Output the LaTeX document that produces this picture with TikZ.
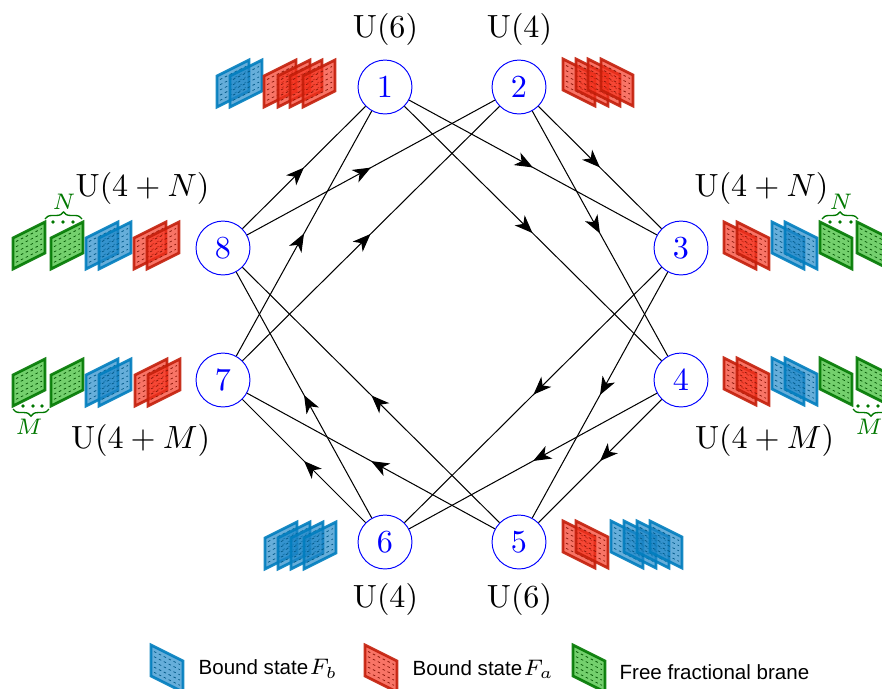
\documentclass[tikz,border=0pt]{standalone}
\usepackage[no-math]{fontspec}
\usepackage{amsmath}
\usepackage{xcolor}
\usetikzlibrary{arrows.meta}
\usetikzlibrary{decorations.markings}
\usetikzlibrary{decorations.pathreplacing}
\newfontfamily\legendfont{Liberation Sans}
\definecolor{bluebr}{RGB}{0,125,190}
\definecolor{bluebrfill}{RGB}{30,135,200}
\definecolor{redbr}{RGB}{195,30,10}
\definecolor{redbrfill}{RGB}{245,50,30}
\definecolor{greenbr}{RGB}{0,120,0}
\definecolor{greenbrfill}{RGB}{50,185,40}
\tikzset{
    gauge/.style={draw=blue,circle,text=blue,minimum size=16.8pt,inner sep=0pt,line width=0.3pt},
    flow/.style={line width=0.32pt,postaction={decorate},decoration={markings,mark=at position 0.5 with {\arrow{Stealth[length=5.6pt,width=4.4pt,inset=1.6pt]}}}},
    legendtext/.style={anchor=west,inner sep=0pt},
    countlabel/.style={text=greenbr,inner sep=0pt,font=\scriptsize},
    countbrace/.style={greenbr,line width=0.42pt,decorate,decoration={brace,amplitude=2.2pt}},
}
% x, y of lower left corner, tilt, colour
\newcommand{\drawbrane}[4]{
    \fill[#4fill,fill opacity=0.68] (#1,#2) -- ++(0,-31) -- ++(32,{-16*#3}) -- ++(0,31) -- cycle;
    \draw[line width=0.85pt,line join=miter,#4,draw opacity=0.9] (#1,#2) -- ++(0,-31) -- ++(32,{-16*#3}) -- ++(0,31) -- cycle;
    \foreach \k in {1,...,5}
        \draw[line width=0.22pt,#4!70!black,dash pattern=on 0.8pt off 0.9pt] ({#1+3},{#2-\k*5.2-1.5*#3}) -- ++(26,{-13*#3});
}
\newcommand{\legendentry}[1]{{\legendfont\fontsize{6.4}{8}\selectfont #1}}
\newcommand{\legendmath}[1]{{\fontsize{7.5}{9}\selectfont $#1$}}
\begin{document}
\begin{tikzpicture}[x=0.3115pt,y=-0.3115pt]
    \useasboundingbox (0,0) rectangle (882,688);
    % gauge nodes
    \node[gauge] (n1) at (385,87) {1};
    \node[gauge] (n2) at (519,87) {2};
    \node[gauge] (n3) at (681,248) {3};
    \node[gauge] (n4) at (681,380) {4};
    \node[gauge] (n5) at (519,542) {5};
    \node[gauge] (n6) at (385,542) {6};
    \node[gauge] (n7) at (223,380) {7};
    \node[gauge] (n8) at (223,248) {8};
    % ranks
    \node (r1) at (385.5,29) {$\mathrm{U}(6)$};
    \node (r2) at (519.5,29) {$\mathrm{U}(4)$};
    \node (r3) at (761.5,188) {$\mathrm{U}(4+N)$};
    \node (r4) at (764.5,440) {$\mathrm{U}(4+M)$};
    \node (r5) at (519.5,599) {$\mathrm{U}(6)$};
    \node (r6) at (385.5,599) {$\mathrm{U}(4)$};
    \node (r7) at (140.5,440) {$\mathrm{U}(4+M)$};
    \node (r8) at (142.5,188) {$\mathrm{U}(4+N)$};
    % arrows
    \draw[flow] (n1) -- (n3);
    \draw[flow] (n1) -- (n4);
    \draw[flow] (n2) -- (n3);
    \draw[flow] (n2) -- (n4);
    \draw[flow] (n3) -- (n5);
    \draw[flow] (n3) -- (n6);
    \draw[flow] (n4) -- (n5);
    \draw[flow] (n4) -- (n6);
    \draw[flow] (n5) -- (n7);
    \draw[flow] (n5) -- (n8);
    \draw[flow] (n6) -- (n7);
    \draw[flow] (n6) -- (n8);
    \draw[flow] (n7) -- (n1);
    \draw[flow] (n7) -- (n2);
    \draw[flow] (n8) -- (n1);
    \draw[flow] (n8) -- (n2);
    % branes at node 1
    \foreach \x in {217,230} {\drawbrane{\x}{107}{1}{bluebr}}
    \foreach \x in {264,278,290,303} {\drawbrane{\x}{107}{1}{redbr}}
    % branes at node 2
    \foreach \x in {563,576,588,601} {\drawbrane{\x}{90}{-1}{redbr}}
    % branes at node 3
    \foreach \x in {724,737} {\drawbrane{\x}{253}{-1}{redbr}}
    \foreach \x in {772,785} {\drawbrane{\x}{253}{-1}{bluebr}}
    \foreach \x in {820,857} {\drawbrane{\x}{253}{-1}{greenbr}}
    % branes at node 4
    \foreach \x in {724,737} {\drawbrane{\x}{389}{-1}{redbr}}
    \foreach \x in {772,785} {\drawbrane{\x}{389}{-1}{bluebr}}
    \foreach \x in {820,857} {\drawbrane{\x}{389}{-1}{greenbr}}
    % branes at node 5
    \foreach \x in {563,576} {\drawbrane{\x}{552}{-1}{redbr}}
    \foreach \x in {611,624,637,650} {\drawbrane{\x}{552}{-1}{bluebr}}
    % branes at node 6
    \foreach \x in {265,278,291,304} {\drawbrane{\x}{569}{1}{bluebr}}
    % branes at node 7
    \foreach \x in {13,51} {\drawbrane{\x}{406}{1}{greenbr}}
    \foreach \x in {86,99} {\drawbrane{\x}{406}{1}{bluebr}}
    \foreach \x in {135,148} {\drawbrane{\x}{406}{1}{redbr}}
    % branes at node 8
    \foreach \x in {13,51} {\drawbrane{\x}{269}{1}{greenbr}}
    \foreach \x in {86,99} {\drawbrane{\x}{269}{1}{bluebr}}
    \foreach \x in {134,147} {\drawbrane{\x}{269}{1}{redbr}}
    % braces
    \draw[countbrace] (45,219) -- (82,219);
    \draw[countbrace] (49,409) -- (13,409);
    \draw[countbrace] (822,219) -- (858,219);
    \draw[countbrace] (889,409) -- (853,409);
    \foreach \x in {53,63,73,830,840,851} {\fill[greenbr] (\x,222) circle (1.8);}
    \foreach \x in {23,33,42,858,868,878} {\fill[greenbr] (\x,406) circle (1.8);}
    \node[countlabel] (c8) at (64,202) {$N$};
    \node[countlabel] (c3) at (841,202) {$N$};
    \node[countlabel] (c7) at (29,427) {$M$};
    \node[countlabel] (c4) at (869,427) {$M$};
    % legend
    \drawbrane{151}{676}{-1}{bluebr}
    \drawbrane{365}{676}{-1}{redbr}
    \drawbrane{573}{676}{-1}{greenbr}
    \node[legendtext] (l1) at (198,669) {\legendentry{Bound state}\hspace{0.4pt}\legendmath{F_b}};
    \node[legendtext] (l2) at (412,669) {\legendentry{Bound state}\hspace{0.4pt}\legendmath{F_a}};
    \node[legendtext] (l3) at (619,672) {\legendentry{Free fractional brane}};
\end{tikzpicture}
\end{document}
